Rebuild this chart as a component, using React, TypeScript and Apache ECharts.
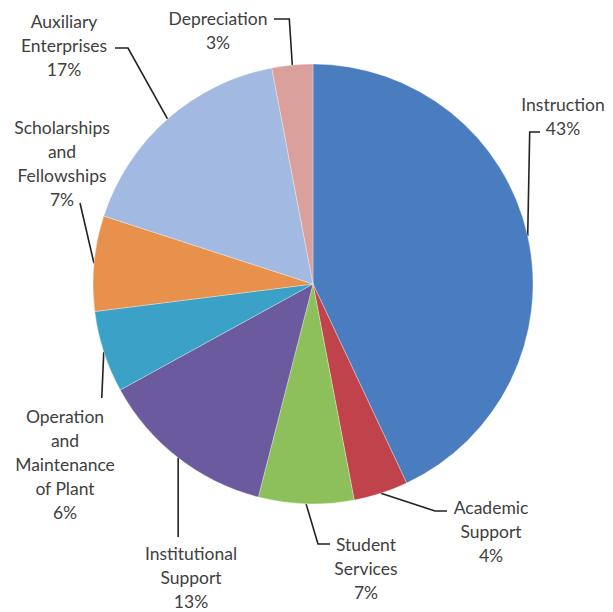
import React, { useEffect, useRef } from "react";
import * as echarts from "echarts";

const categories = [
  "Instruction",
  "Academic\nSupport",
  "Student\nServices",
  "Institutional\nSupport",
  "Operation\nand\nMaintenance\nof Plant",
  "Scholarships\nand\nFellowships",
  "Auxiliary\nEnterprises",
  "Depreciation",
];
const values = [43, 4, 7, 13, 6, 7, 17, 3];
const colors = [
  "#4a7dbf",
  "#c0434b",
  "#8dc05a",
  "#6b5a9d",
  "#3ba1c7",
  "#e8914c",
  "#a2bae2",
  "#d9a09c",
];

// label block centre [x, y]
const labelCentres: number[][] = [
  [563, 116],
  [491, 531],
  [366, 568],
  [191, 577],
  [65, 464],
  [62, 163],
  [64, 45],
  [218, 30],
];

const PAD = 300;

export default function App() {
  const ref = useRef<HTMLDivElement>(null);
  useEffect(() => {
    if (!ref.current) return;
    const chart = echarts.init(ref.current, undefined, { renderer: "svg" });
    const bends = (i: number, s: number[]): number[][] => {
      switch (i) {
        case 0:
          return [s, [s[0] + 2, 132], [540, 132]];
        case 1:
          return [s, [435, 511], [447, 511]];
        case 2:
          return [s, [318, 544], [330, 544]];
        case 3:
          return [s, [s[0], 537]];
        case 4:
          return [s, [s[0] - 2, 398]];
        case 5:
          return [s, [80, 203]];
        case 6:
          return [s, [128, 48], [115, 48]];
        case 7:
          return [s, [s[0] - 3, 19], [274, 19]];
        default:
          return [s];
      }
    };
    chart.setOption({
      animation: false,
      backgroundColor: "#ffffff",
      series: [
        {
          type: "pie",
          left: -PAD,
          top: -PAD,
          width: 613 + 2 * PAD,
          height: 612 + 2 * PAD,
          center: [313 + PAD, 284 + PAD],
          radius: 220,
          startAngle: 90,
          clockwise: true,
          data: categories.map((c, i) => ({
            name: c,
            value: values[i],
            itemStyle: { color: colors[i] },
          })),
          itemStyle: { borderColor: "rgba(255,255,255,0.5)", borderWidth: 0.6 },
          label: {
            show: true,
            position: "outside",
            formatter: (p: any) => `${p.name}\n${p.value}%`,
            color: "#404040",
            fontFamily: "Lato",
            fontSize: 17.5,
            lineHeight: 24,
            align: "center",
            overflow: "none",
          },
          labelLine: {
            show: true,
            lineStyle: { color: "#222222", width: 1.6 },
          },
          labelLayout: (params: any) => {
            const i = params.dataIndex;
            const c = labelCentres[i];
            const s = params.labelLinePoints ? params.labelLinePoints[0] : [c[0], c[1]];
            return {
              x: c[0],
              y: c[1],
              align: "center",
              verticalAlign: "middle",
              labelLinePoints: bends(i, s),
            };
          },
        },
      ],
    });
    return () => chart.dispose();
  }, []);
  return (
    <div
      ref={ref}
      style={{ position: "fixed", left: 0, top: 0, width: 613, height: 612 }}
    />
  );
}
